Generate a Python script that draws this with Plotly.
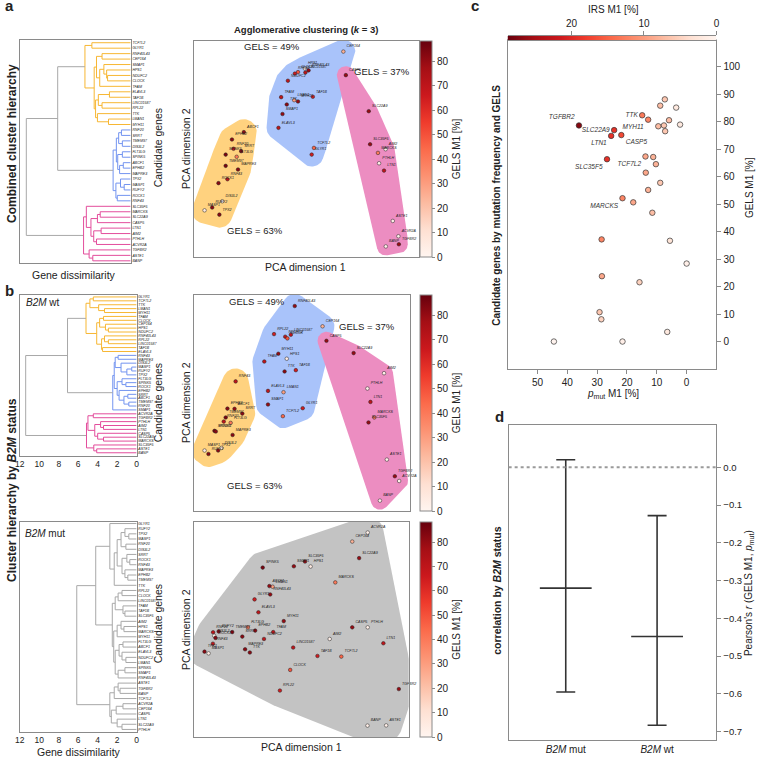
import numpy as np
import plotly.graph_objects as go

W, H = 762, 765

# ------------------------------------------------------------------ data
genes = ["TCF7L2", "GLYR1", "RNF40L43", "CEP164", "SMAP1", "HPS1", "NDUFC2", "CLOCK",
         "TFAM", "ELAVL3", "TAF1B", "LINC01587", "RPL22", "TTK", "LMAN1", "MYH11",
         "RNF20", "SRRT", "TMEM97", "DIS3L2", "FLT3LG", "SPINK5", "ABCF1", "EPHB2",
         "MAPRE3", "TPX2", "MASP1", "RUFY2", "ROCK1", "RNF43",
         "SLC35F5", "MARCKS", "SLC22A9", "CASP5", "LTN1", "AIM2", "PTHLH", "ACVR2A",
         "TGFBR2", "ASTE1", "BANP"]

# GELS M1 [%] per gene (colour of PCA points)
gels_pca = [45, 65, 80, 25, 80, 5, 70, 50, 70, 70, 65, 70, 65, 82, 30, 80,
            70, 82, 85, 5, 40, 85, 80, 82, 82, 82, 5, 82, 82, 70,
            80, 40, 80, 80, 70, 3, 3, 3, 80, 3, 3]

# cluster (region) of each gene in the k = 3 PCA panels
pca_region = ["blue", "blue", "blue", "blue", "blue", "blue", "blue", "blue",
              "blue", "blue", "blue", "blue", "blue", "blue", "blue", "blue",
              "yellow", "yellow", "yellow", "yellow", "yellow", "yellow", "yellow",
              "yellow", "yellow", "yellow", "yellow", "yellow", "yellow", "yellow",
              "pink", "pink", "pink", "pink", "pink", "pink", "pink", "pink",
              "pink", "pink", "pink"]
region_gels = {"yellow": "GELS = 63%", "blue": "GELS = 49%", "pink": "GELS = 37%"}

# PCA coordinates (arbitrary units)
pca_a_x = [53.4, 52.4, 51.0, 66.5, 39.4, 49.3, 41.8, 46.3, 38.8, 37.6, 52.9, 49.6, 44.9, 41.3, 44.6, 46.3,
           17.6, 21.0, 14.1, 12.6, 19.0, 14.1, 22.2, 16.9, 19.6, 11.3, 4.7, 8.1, 10.9, 14.9,
           78.4, 81.9, 77.8, 67.6, 84.6, 85.3, 82.4, 91.0, 91.2, 88.5, 85.4]
pca_a_y = [50.5, 47.4, 86.4, 95.1, 66.2, 87.3, 81.6, 85.6, 74.0, 59.8, 74.2, 85.4, 84.9, 70.6, 72.6, 72.0,
           50.1, 49.0, 42.2, 25.8, 46.4, 47.4, 57.8, 54.4, 40.5, 19.6, 21.6, 22.9, 34.2, 36.0,
           52.2, 48.2, 67.5, 84.2, 40.0, 49.9, 43.4, 9.6, 5.9, 16.7, 4.9]

pca_wt_x = [41.2, 50.4, 46.7, 59.6, 34.3, 43.0, 42.3, 43.3, 32.6, 34.3, 47.2, 44.9, 37.1, 42.0, 41.5, 39.1,
            13.8, 22.4, 14.7, 12.7, 17.0, 9.5, 18.8, 15.5, 17.9, 11.2, 4.9, 6.7, 10.1, 19.3,
            80.9, 83.6, 74.0, 61.4, 81.8, 88.1, 80.4, 95.1, 93.1, 89.4, 86.2]
pca_wt_y = [43.9, 47.6, 94.9, 85.5, 49.3, 70.5, 80.7, 79.9, 69.2, 55.6, 65.2, 81.6, 81.9, 64.6, 55.0, 72.8,
            41.4, 45.1, 43.3, 29.2, 40.8, 37.1, 47.3, 47.4, 35.2, 28.0, 28.0, 26.4, 36.8, 60.0,
            41.0, 43.3, 73.1, 78.8, 50.5, 63.8, 56.7, 13.9, 16.1, 23.8, 4.8]

pca_mut_x = [68.6, 28.2, 35.5, 73.7, 46.5, 54.3, 32.6, 44.8, 36.9, 30.0, 57.5, 46.2, 40.0, 26.0, 36.6, 41.8,
             8.9, 22.5, 17.8, 9.4, 25.1, 32.0, 35.1, 28.5, 23.8, 4.9, 6.8, 11.5, 10.0, 8.8,
             51.7, 65.8, 76.9, 73.7, 88.2, 63.2, 80.9, 80.9, 95.4, 89.5, 80.8]
pca_mut_y = [37.4, 64.0, 66.3, 90.9, 79.4, 79.3, 45.6, 31.2, 48.8, 58.0, 37.7, 41.6, 21.6, 39.3, 69.9, 53.9,
             48.7, 46.7, 48.8, 47.1, 51.0, 78.8, 70.2, 49.5, 40.8, 39.7, 38.9, 49.1, 46.1, 43.4,
             81.6, 71.9, 83.2, 51.0, 43.6, 45.6, 51.0, 95.1, 22.3, 5.4, 5.3]

# dendrograms: (merge height, left, right); leaves are gene names
tree_all = (11.3,
            (7.9,
             (4.95,
              (4.2, "TCF7L2", "GLYR1"),
              (3.95,
               (3.7, (3.1, "RNF40L43", "CEP164"),
                (3.35, (2.9, "SMAP1", (2.6, "HPS1", (2.5, "NDUFC2", "CLOCK"))), "TFAM")),
               (3.8, (3.5, (2.3, "ELAVL3", "TAF1B"), (3.1, "LINC01587", "RPL22")),
                (3.6, "TTK", (2.4, "LMAN1", "MYH11"))))),
             (1.9,
              (1.55,
               (1.3, (1.0, "RNF20", "SRRT"), (0.9, "TMEM97", "DIS3L2")),
               (1.4, (0.9, "FLT3LG", "SPINK5"), (1.2, (0.8, "ABCF1", "EPHB2"), "MAPRE3"))),
              (1.6, (1.1, "TPX2", (0.7, "MASP1", "RUFY2")), (1.45, "ROCK1", "RNF43")))),
            (5.1,
             (4.8, "SLC35F5",
              (4.3, (3.6, (3.3, "MARCKS", "SLC22A9"), "CASP5"),
               (4.0, (3.2, "LTN1", "AIM2"), (3.7, "PTHLH", "ACVR2A")))),
             (4.5, "TGFBR2", (4.1, "ASTE1", "BANP"))))

tree_wt = (11.4,
           (7.1,
            (5.2,
             (4.8, (4.45, "GLYR1", "TCF7L2"), (3.9, "TTK", (3.3, "LMAN1", "MYH11"))),
             (4.1,
              (3.8, (3.4, "TFAM", "CLOCK"), (3.2, "CEP164", (2.9, "HPS1", "NDUFC2"))),
              (3.6, (3.3, "RNF40L43", (2.9, "RPL22", "LINC01587")), (3.5, "TAF1B", "ELAVL3")))),
            (2.45,
             (2.3,
              (2.2, (1.9, "RNF43", "MAPRE3"), (1.6, "DIS3L2", (1.0, (0.5, "MASP1", "RUFY2"), "TPX2"))),
              (2.0, (1.5, "FLT3LG", (1.1, "SPINK5", "ROCK1")),
               (1.8, "EPHB2", (1.3, (0.9, "SRRT", "ABCF1"), (0.8, "TMEM97", "RNF20"))))),
             "SMAP1")),
           (5.15,
            (5.0, (4.45, "ACVR2A", "TGFBR2"),
             (4.3, (3.7, "PTHLH", (3.4, "AIM2", "LTN1")), (4.0, "CASP5", (3.4, "SLC22A9", "MARCKS")))),
            (4.4, "SLC35F5", (4.1, "ASTE1", "BANP"))))

tree_mut = (6.15,
            (4.2,
             (2.75, "GLYR1",
              (2.3,
               (2.0, (1.6, (1.2, "RUFY2", (0.8, "TPX2", "MASP1")), (1.1, "RNF20", "DIS3L2")),
                (1.5, (1.0, "SRRT", (0.7, "ROCK1", "RNF43")), (1.2, "MAPRE3", (0.9, "EPHB2", "TMEM97")))),
               "TTK")),
             (2.5,
              (2.2, (1.9, (1.5, "RPL22", "CLOCK"), "LINC01587"), (1.4, "TFAM", (1.2, "TAF1B", "SLC35F5"))),
              (2.35,
               (2.0, (1.6, "AIM2", (1.3, "HPS1", "MARCKS")), "MYH11"),
               (2.2, (1.8, (1.4, "FLT3LG", "ABCF1"), (1.5, "ELAVL3", (1.1, "NDUFC2", "LMAN1"))),
                (1.9, (1.2, "SPINK5", "SMAP1"), "RNF40L43"))))),
            (2.75,
             (2.3, (1.9, "ASTE1", (1.7, "TGFBR2", "BANP")), "TCF7L2"),
             (2.6, (2.1, (1.4, "ACVR2A", "CEP164"), "CASP5"), (2.0, "LTN1", (1.5, "SLC22A9", "PTHLH")))))

# panel c: mutation frequency vs GELS, coloured by IRS
pmut_c = [7.3, 8.85, 3.5, 14.9, 12.9, 5.9, 36.1, 2.2, 7.6, 9.5, 24.3, 7.2, 25.3, 21.9, 13.8, 11.2,
          26.7, 10.3, 13.7, 8.85, 12.9, 21.5, 17.9, 11.5, 28.5, 5.6, 0.0, 28.4, 15.8, 29.2, 28.6,
          6.5, 44.5, 21.5]
gels_c = [88.2, 85.9, 85.2, 82.4, 80.8, 80.6, 78.7, 79.0, 78.7, 78.4, 77.0, 76.6, 74.9, 75.2, 67.4, 67.2,
          66.4, 64.6, 61.5, 57.8, 55.2, 52.2, 50.7, 46.9, 37.2, 36.7, 28.4, 23.8, 21.6, 10.7, 8.1,
          3.5, 0.0, 0.0]
irs_c = [6, 7, 2, 13, 12, 7, 27, 2, 6, 7, 19, 6, 19, 17, 9, 8,
         19, 8, 9, 6, 8, 12, 9, 7, 12, 3, 1, 9, 5, 6, 5,
         2, 0.3, 1]
label_c = ["", "", "", "TTK", "MYH11", "", "TGFBR2", "", "", "", "SLC22A9", "", "LTN1", "CASP5",
           "TCF7L2", "", "SLC35F5", "", "", "", "", "MARCKS", "", "", "", "", "", "", "", "", "",
           "", "", ""]
irs_max = 28.8
gels_max = 88.3

# panel d: Pearson's r with confidence interval
d_groups = ["<i>B2M</i> mut", "<i>B2M</i> wt"]
d_r = [-0.32, -0.448]
d_lo = [-0.595, -0.683]
d_hi = [0.02, -0.128]

# ------------------------------------------------------------------ style
FONT = "Liberation Sans, Arial, Helvetica, sans-serif"
TXT = "#222222"
AXC = "#8a8a8a"
LINE_COL = {"yellow": "#F7B733", "blue": "#7394F0", "pink": "#E34D9C"}
FILL_COL = {"yellow": "#FFD27F", "blue": "#A9C3FA", "pink": "#EC8DC1", "grey": "#C3C3C3"}
GREY_LINE = "#A8A8A8"
PAD = {"yellow": 13, "blue": 12, "pink": 9, "grey": 16}


def xd(a, b):
    return [a / W, b / W]


def yd(a, b):
    return [1 - b / H, 1 - a / H]


def ann(px, py, text, size=10, bold=False, angle=0, xanchor="center", yanchor="middle"):
    if bold:
        text = "<b>" + text + "</b>"
    return dict(x=px / W, y=1 - py / H, xref="paper", yref="paper", text=text, showarrow=False,
                font=dict(size=size, color=TXT, family=FONT), textangle=angle,
                xanchor=xanchor, yanchor=yanchor)


def convex_hull(points):
    pts = sorted(set(points))
    if len(pts) <= 2:
        return pts

    def cross(o, a, b):
        return (a[0] - o[0]) * (b[1] - o[1]) - (a[1] - o[1]) * (b[0] - o[0])
    lower, upper = [], []
    for p in pts:
        while len(lower) >= 2 and cross(lower[-2], lower[-1], p) <= 0:
            lower.pop()
        lower.append(p)
    for p in reversed(pts):
        while len(upper) >= 2 and cross(upper[-2], upper[-1], p) <= 0:
            upper.pop()
        upper.append(p)
    return lower[:-1] + upper[:-1]


def padded_hull(xs, ys, sx, sy, r):
    ang = np.linspace(0, 2 * np.pi, 60, endpoint=False)
    pts = []
    for x, y in zip(xs, ys):
        for t in ang:
            pts.append((round(x * sx + r * np.cos(t), 4), round(y * sy + r * np.sin(t), 4)))
    hull = convex_hull(pts)
    hull.append(hull[0])
    return [p[0] / sx for p in hull], [p[1] / sy for p in hull]


def dendro(tree, threshold, palette):
    segs = {}
    leaves = []
    counter = [0]

    def add(col, xs, ys):
        s = segs.setdefault(col, ([], []))
        s[0].extend(xs + [None])
        s[1].extend(ys + [None])

    def rec(node, col):
        if isinstance(node, str):
            leaves.append(node)
            return 0.0, len(leaves) - 1
        h, l, r = node
        c = col
        if c is None and h < threshold:
            c = palette[counter[0] % len(palette)]
            counter[0] += 1
        xl, yl = rec(l, c)
        xr, yr = rec(r, c)
        add(LINE_COL[c] if c else GREY_LINE, [xl, h, h, xr], [yl, yl, yr, yr])
        return h, (yl + yr) / 2
    rec(tree, None)
    return segs, leaves


fig = go.Figure()
box = dict(showline=True, mirror=True, linecolor=AXC, linewidth=1, showgrid=False, zeroline=False)
annotations = []
layout_axes = {}

# ------------------------------------------------------------------ dendrograms
dendro_specs = [
    (1, tree_all, 6.0, (15, 127), (40, 263), [40.4, -0.5], False),
    (3, tree_wt, 6.0, (15, 133), (295, 455.5), [40.7, -0.5], True),
    (5, tree_mut, 0.0, (15, 133), (522, 732), [40.5, -0.3], True),
]
for idx, tree, thr, (x0, x1), (y0, y1), yr, show_ticks in dendro_specs:
    sfx = "" if idx == 1 else str(idx)
    segs, leaves = dendro(tree, thr, ["yellow", "blue", "pink"])
    for col, (xs, ys) in segs.items():
        fig.add_trace(go.Scatter(x=xs, y=ys, mode="lines", line=dict(color=col, width=1),
                                 xaxis="x" + sfx, yaxis="y" + sfx, hoverinfo="skip"))
    layout_axes["xaxis" + sfx] = dict(box, domain=xd(x0, x1), range=[12, 0], anchor="y" + sfx,
                                      tickvals=list(range(0, 13, 2)) if show_ticks else [],
                                      ticks="", ticklen=0,
                                      tickfont=dict(size=8.5, color=TXT))
    layout_axes["yaxis" + sfx] = dict(box, domain=yd(y0, y1), range=yr, anchor="x" + sfx, side="right",
                                      tickvals=list(range(len(leaves))),
                                      ticktext=["<i>" + g + "</i>" for g in leaves],
                                      ticks="", ticklen=0, tickfont=dict(size=3.6, color=TXT))

# ------------------------------------------------------------------ PCA panels
pca_specs = [
    (2, pca_a_x, pca_a_y, (191, 418), (41, 257), "coloraxis", True),
    (4, pca_wt_x, pca_wt_y, (191, 409), (295, 511), "coloraxis2", True),
    (6, pca_mut_x, pca_mut_y, (191, 408), (522, 737), "coloraxis3", False),
]
gels_text_pos = {
    2: {"blue": (34.6, 97.4), "pink": (83.8, 85.8), "yellow": (27.2, 12.4)},
    4: {"blue": (29.1, 96.9), "pink": (80.4, 85.3), "yellow": (28.3, 11.8)},
}
for idx, px_, py_, (x0, x1), (y0, y1), cax, clustered in pca_specs:
    sfx = str(idx)
    sx, sy = (x1 - x0) / 100.0, (y1 - y0) / 100.0
    groups = ["yellow", "blue", "pink"] if clustered else ["grey"]
    for g in groups:
        sel = [i for i in range(len(genes)) if (pca_region[i] == g or not clustered)]
        hx, hy = padded_hull([px_[i] for i in sel], [py_[i] for i in sel], sx, sy, PAD[g])
        fig.add_trace(go.Scatter(x=hx, y=hy, mode="lines", fill="toself", fillcolor=FILL_COL[g],
                                 line=dict(width=0, color=FILL_COL[g]), xaxis="x" + sfx, yaxis="y" + sfx,
                                 hoverinfo="skip"))
    fig.add_trace(go.Scatter(
        x=px_, y=py_, mode="markers+text", xaxis="x" + sfx, yaxis="y" + sfx,
        text=["<i>" + g + "</i>" for g in genes], textposition="top right",
        textfont=dict(size=3.6, color=TXT, family=FONT),
        marker=dict(size=3.6, color=gels_pca, coloraxis=cax, line=dict(width=0.5, color="#222")),
        cliponaxis=False))
    layout_axes["xaxis" + sfx] = dict(box, domain=xd(x0, x1), range=[0, 100], anchor="y" + sfx,
                                      showticklabels=False, ticks="")
    layout_axes["yaxis" + sfx] = dict(box, domain=yd(y0, y1), range=[0, 100], anchor="x" + sfx,
                                      showticklabels=False, ticks="")
    layout_axes[cax] = dict(
        colorscale="Reds", cmin=0, cmax=gels_max,
        colorbar=dict(x=419 / W, xanchor="left", xpad=0, y=1 - (y0 + y1) / 2 / H, yanchor="middle",
                      ypad=0, len=y1 - y0, lenmode="pixels", thickness=12, thicknessmode="pixels",
                      outlinewidth=1, outlinecolor=AXC, ticks="outside", ticklen=3, tickcolor=AXC,
                      tickvals=list(range(0, 90, 10)), tickfont=dict(size=10, color=TXT, family=FONT),
                      title=dict(text="GELS M1 [%]", side="right", font=dict(size=10, color=TXT, family=FONT))))
    if idx in gels_text_pos:
        for g, (tx, ty) in gels_text_pos[idx].items():
            annotations.append(dict(x=tx, y=ty, xref="x" + sfx, yref="y" + sfx, text=region_gels[g],
                                    showarrow=False, font=dict(size=9.5, color=TXT, family=FONT)))

# ------------------------------------------------------------------ panel c
pos_c = {"TTK": "middle left", "MYH11": "bottom left", "TGFBR2": "top left", "SLC22A9": "middle left",
         "LTN1": "bottom left", "CASP5": "bottom right", "TCF7L2": "bottom left",
         "SLC35F5": "bottom left", "MARCKS": "bottom left"}
fig.add_trace(go.Scatter(
    x=pmut_c, y=gels_c, mode="markers+text", xaxis="x7", yaxis="y7",
    text=["<i>" + t + "</i>" if t else "" for t in label_c],
    textposition=[pos_c.get(t, "middle center") for t in label_c],
    textfont=dict(size=6.5, color="#333", family=FONT),
    marker=dict(size=5.5, color=irs_c, colorscale="Reds", cmin=0, cmax=irs_max, showscale=False,
                line=dict(width=0.7, color="#333"))))
layout_axes["xaxis7"] = dict(box, domain=xd(508, 719), range=[60, -10], anchor="y7",
                             tickvals=list(range(0, 60, 10)), ticks="outside", ticklen=4, tickcolor=AXC,
                             tickfont=dict(size=10, color=TXT))
layout_axes["yaxis7"] = dict(box, domain=yd(39.5, 369), range=[-10, 110], anchor="x7", side="right",
                             tickvals=list(range(0, 110, 10)), ticks="outside", ticklen=4, tickcolor=AXC,
                             tickfont=dict(size=10, color=TXT))
# IRS colour bar (on top)
irs_grid = np.linspace(0, irs_max, 300)
fig.add_trace(go.Heatmap(x=irs_grid, y=[0], z=[irs_grid], colorscale="Reds", zmin=0, zmax=irs_max,
                         showscale=False, xaxis="x8", yaxis="y8", hoverinfo="skip"))
layout_axes["xaxis8"] = dict(domain=xd(508, 719), range=[irs_max, 0], anchor="y8", side="top",
                             tickvals=[0, 10, 20], ticks="outside", ticklen=4, tickcolor=AXC,
                             showline=True, linecolor=AXC, mirror=True, showgrid=False, zeroline=False,
                             tickfont=dict(size=10, color=TXT))
layout_axes["yaxis8"] = dict(domain=yd(36, 40), range=[-0.5, 0.5], anchor="x8", showticklabels=False,
                             ticks="", showgrid=False, zeroline=False, showline=False)

# ------------------------------------------------------------------ panel d
fig.add_trace(go.Scatter(
    x=[0, 1], y=d_r, mode="markers", xaxis="x9", yaxis="y9",
    marker=dict(symbol="line-ew", size=37, color="#333", line=dict(width=1.6, color="#333")),
    error_y=dict(type="data", symmetric=False,
                 array=[h - r for h, r in zip(d_hi, d_r)],
                 arrayminus=[r - l for r, l in zip(d_r, d_lo)],
                 width=9.5, thickness=1.6, color="#333")))
layout_axes["xaxis9"] = dict(box, domain=xd(509, 719), range=[-0.625, 1.65], anchor="y9",
                             tickvals=[0, 1], ticktext=d_groups, ticks="", tickfont=dict(size=10, color=TXT))
layout_axes["yaxis9"] = dict(box, domain=yd(425, 740), range=[-0.722, 0.112], anchor="x9", side="right",
                             tickvals=[-0.7, -0.6, -0.5, -0.4, -0.3, -0.2, -0.1, 0.0], tickformat=".1f",
                             ticks="outside", ticklen=4, tickcolor=AXC, tickfont=dict(size=9.5, color=TXT))
shapes = [dict(type="line", xref="x9 domain", yref="y9", x0=0, x1=1, y0=0, y1=0,
               line=dict(color="#9a9a9a", width=2, dash="dot"))]

# ------------------------------------------------------------------ texts
annotations += [
    ann(5, 6, "a", 15, True), ann(5, 290, "b", 15, True), ann(475, 6, "c", 15, True), ann(500, 417, "d", 15, True),
    ann(7, 143, "Combined cluster hierarchy", 12, True, -90),
    ann(7, 490, "Cluster hierarchy by <i>B2M</i> status", 12, True, -90),
    ann(155, 148, "Candidate genes", 10.5, angle=-90),
    ann(155, 403, "Candidate genes", 10.5, angle=-90),
    ann(155, 624, "Candidate genes", 10.5, angle=-90),
    ann(70, 275, "Gene dissimilarity", 10.5),
    ann(75, 752, "Gene dissimilarity", 10.5),
    ann(183, 149, "PCA dimension 2", 10.5, angle=-90),
    ann(183, 403, "PCA dimension 2", 10.5, angle=-90),
    ann(183, 630, "PCA dimension 2", 10.5, angle=-90),
    ann(304, 267, "PCA dimension 1", 10.5),
    ann(300, 747, "PCA dimension 1", 10.5),
    ann(304, 30, "Agglomerative clustering (<i>k</i> = 3)", 9.5, True),
    ann(19, 303, "<i>B2M</i> wt", 10, xanchor="left"),
    ann(18, 533, "<i>B2M</i> mut", 10, xanchor="left"),
    ann(615, 10, "IRS M1 [%]", 10),
    ann(614, 394, "<i>p</i><sub>mut</sub> M1 [%]", 10),
    ann(752, 188, "GELS M1 [%]", 10, angle=-90),
    ann(497, 205, "Candidate genes by mutation frequency and GELS", 10, True, -90),
    ann(497, 590, "correlation by <i>B2M</i> status", 10.5, True, -90),
    ann(752, 593, "Pearson's <i>r</i> (GELS M1, <i>p</i><sub>mut</sub>)", 10, angle=-90),
]

fig.update_layout(width=W, height=H, margin=dict(l=0, r=0, t=0, b=0), paper_bgcolor="white",
                  plot_bgcolor="white", showlegend=False, font=dict(family=FONT, color=TXT),
                  annotations=annotations, shapes=shapes, **layout_axes)
fig.write_html("out.html", config={"displayModeBar": False},
               post_script="document.body.style.margin='0px';document.body.style.overflow='hidden';")
